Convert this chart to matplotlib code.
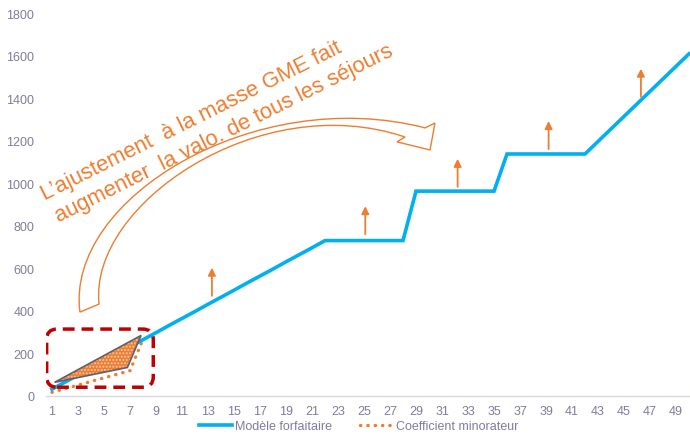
import matplotlib

matplotlib.use("Agg")
import matplotlib.pyplot as plt
from matplotlib.lines import Line2D
from matplotlib.patches import FancyBboxPatch, PathPatch, Polygon
from matplotlib.path import Path

plt.rcParams["font.family"] = ["Liberation Sans", "DejaVu Sans"]

# séjours 1..50
sejours = list(range(1, 51))
modele_forfaitaire = [
    30, 63, 97, 130, 163, 197, 230, 263, 296, 330,
    363, 396, 430, 463, 496, 530, 563, 596, 630, 663,
    696, 730, 730, 730, 730, 730, 730, 730, 963, 963,
    963, 963, 963, 963, 963, 1138, 1138, 1138, 1138, 1138,
    1138, 1138, 1197, 1256, 1315, 1374, 1433, 1492, 1551, 1610,
]
sejours_coef = list(range(1, 9))
coef_minorateur = [15, 32, 49, 66, 83, 100, 117, 266]

# petites flèches de revalorisation (position, départ, longueur)
fleche_x = [13.3, 25.1, 32.2, 39.2, 46.3]
fleche_base = [470, 760, 983, 1161, 1408]
fleche_long = 132

y_ticks = list(range(0, 1801, 200))
x_ticks = list(range(1, 50, 2))

BLUE = "#00B0F0"
ORANGE = "#ED7D31"
DARKRED = "#C00000"
TICK = "#807C9C"
DOTS = (0, (0.1, 2.1))

fig = plt.figure(figsize=(6.9, 4.39), dpi=100)
ax = fig.add_axes([45.5 / 690, 42.5 / 439, 650 / 690, 382 / 439])

ax.plot(sejours_coef, coef_minorateur, color=ORANGE, lw=2.4,
        linestyle=DOTS, dash_capstyle="round", zorder=3)
ax.plot(sejours, modele_forfaitaire, color=BLUE, lw=2.6,
        solid_joinstyle="miter", zorder=4)

ax.set_xlim(0.5, 50.5)
ax.set_ylim(0, 1800)
ax.set_xticks(x_ticks)
ax.set_yticks(y_ticks)
ax.tick_params(axis="both", length=0, labelsize=9, labelcolor=TICK)
ax.tick_params(axis="x", pad=7)
ax.tick_params(axis="y", pad=8)
for side in ("top", "right", "left"):
    ax.spines[side].set_visible(False)
ax.spines["bottom"].set_color("#D9D9E3")
ax.spines["bottom"].set_linewidth(1)

# zone de l'écart entre les deux modèles
ecart = [(1.2, 62), (7.85, 283), (6.8, 132)]
ax.add_patch(Polygon(ecart, closed=True, facecolor=ORANGE,
                     edgecolor="#F8C9A6", lw=0, hatch=".....", zorder=5))
ax.add_patch(Polygon(ecart, closed=True, fill=False,
                     edgecolor="#5F5F70", lw=1.2, zorder=6))

# cadre pointillé rouge
ax.add_patch(FancyBboxPatch((0.59, 39), 8.2, 274,
                            boxstyle="round,pad=0,rounding_size=0.8",
                            mutation_aspect=61.3, fill=False,
                            edgecolor=DARKRED, lw=2.5,
                            linestyle=(0, (3.4, 2)), zorder=7))

for x, y0 in zip(fleche_x, fleche_base):
    ax.annotate("", xy=(x, y0 + fleche_long), xytext=(x, y0),
                arrowprops=dict(arrowstyle="-|>", color=ORANGE, lw=1.3,
                                mutation_scale=11, shrinkA=0, shrinkB=0))

# grande flèche courbe (contour seulement)
verts = [
    (3.15, 393), (2.0, 926), (16.6, 1468), (29.7, 1261),
    (30.46, 1284), (30.08, 1157), (27.54, 1195), (28.15, 1218),
    (17.0, 1450), (3.8, 900), (4.62, 431),
    (3.15, 393),
]
codes = [
    Path.MOVETO, Path.CURVE4, Path.CURVE4, Path.CURVE4,
    Path.LINETO, Path.LINETO, Path.LINETO, Path.LINETO,
    Path.CURVE4, Path.CURVE4, Path.CURVE4,
    Path.CLOSEPOLY,
]
ax.add_patch(PathPatch(Path(verts, codes), fill=False, edgecolor=ORANGE,
                       lw=1.0, zorder=2))

ax.text(0.42, 925, "L\u2019ajustement  à la masse GME fait", rotation=26.5,
        rotation_mode="anchor", ha="left", va="baseline", fontsize=15.8,
        color=ORANGE)
ax.text(1.5, 820, "augmenter  la valo. de tous les séjours", rotation=26.5,
        rotation_mode="anchor", ha="left", va="baseline", fontsize=15.8,
        color=ORANGE)

handles = [
    Line2D([], [], color=BLUE, lw=2.6),
    Line2D([], [], color=ORANGE, lw=2.4, linestyle=DOTS,
           dash_capstyle="round"),
]
fig.legend(handles, ["Modèle forfaitaire", "Coefficient minorateur"],
           loc="center", bbox_to_anchor=(0.52, 12 / 439), ncol=2,
           frameon=False, fontsize=9, labelcolor=TICK, handlelength=2.6,
           handletextpad=0.3, columnspacing=2.2)

fig.savefig("out.png", dpi=100)
